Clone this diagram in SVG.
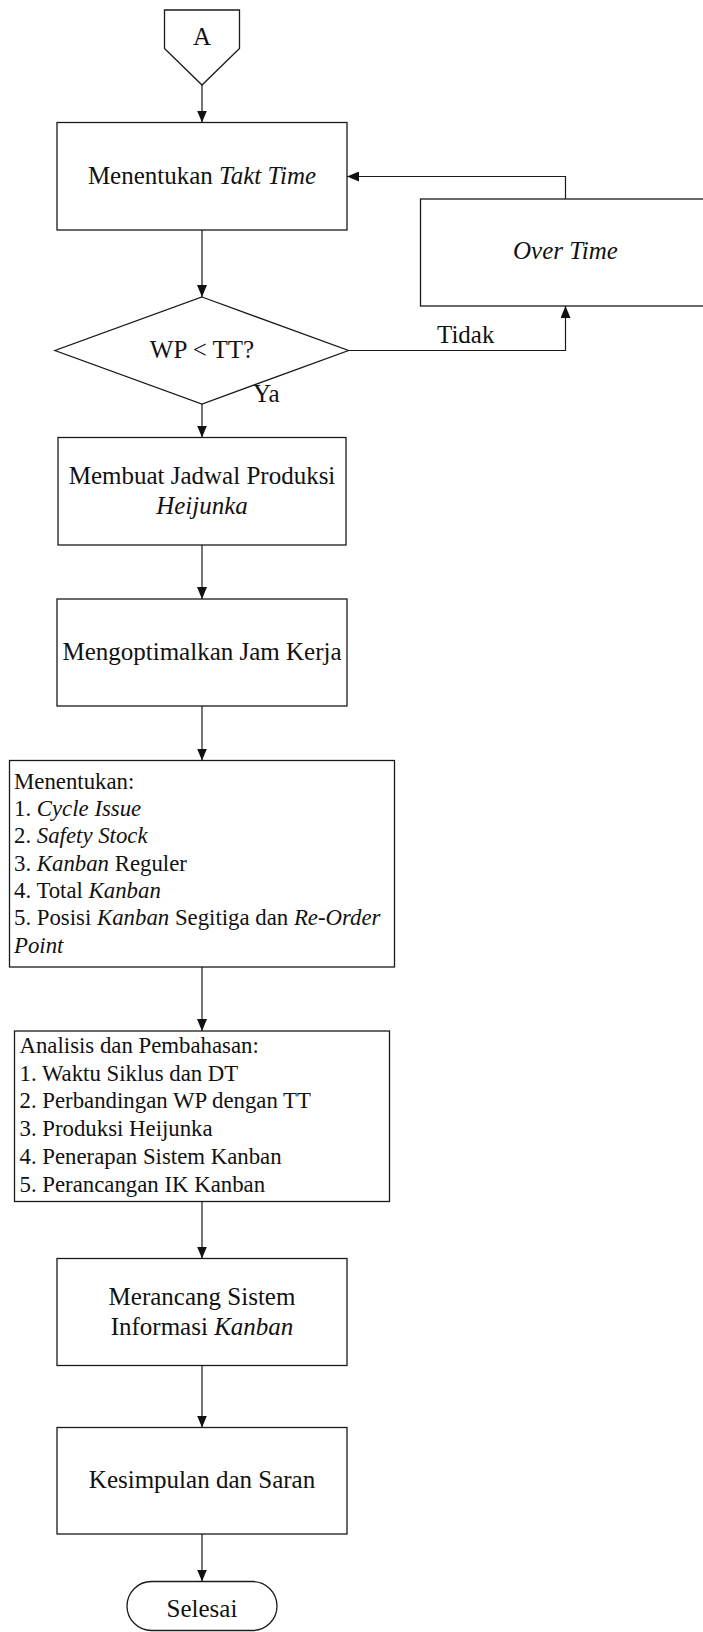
<svg xmlns="http://www.w3.org/2000/svg" width="703" height="1632" viewBox="0 0 703 1632" font-family="'Liberation Serif', 'Times New Roman', Times, serif">
  <style>
    .shape { fill: #ffffff; stroke: #1a1a1a; stroke-width: 1.3; }
    .link { fill: none; stroke: #1a1a1a; stroke-width: 1.2; }
    .t { font-family: 'Liberation Serif', 'Times New Roman', Times, serif; font-size: 25px; fill: #111111; }
    .l { font-size: 22.8px; }
    .c { text-anchor: middle; }
    .i { font-style: italic; }
  </style>
  <defs>
    <marker id="arrow" viewBox="0 0 12 10" markerWidth="12" markerHeight="10" refX="12" refY="5" orient="auto" markerUnits="userSpaceOnUse">
      <path d="M0,0 L12,5 L0,10 z" fill="#111111"/>
    </marker>
  </defs>
  <rect width="703" height="1632" fill="#ffffff"/>

  <!-- connectors -->
  <g id="connectors">
    <line class="link" x1="202" y1="85" x2="202" y2="122.5" marker-end="url(#arrow)"/>
    <line class="link" x1="202" y1="230" x2="202" y2="297" marker-end="url(#arrow)"/>
    <line class="link" x1="202" y1="404" x2="202" y2="437.5" marker-end="url(#arrow)"/>
    <line class="link" x1="202" y1="545" x2="202" y2="599" marker-end="url(#arrow)"/>
    <line class="link" x1="202" y1="706" x2="202" y2="760.5" marker-end="url(#arrow)"/>
    <line class="link" x1="202" y1="967" x2="202" y2="1031" marker-end="url(#arrow)"/>
    <line class="link" x1="202" y1="1201.5" x2="202" y2="1258.5" marker-end="url(#arrow)"/>
    <line class="link" x1="202" y1="1365.5" x2="202" y2="1427.5" marker-end="url(#arrow)"/>
    <line class="link" x1="202" y1="1534" x2="202" y2="1581.5" marker-end="url(#arrow)"/>
    <polyline class="link" points="348.5,350.5 565.5,350.5 565.5,306" marker-end="url(#arrow)"/>
    <polyline class="link" points="565.5,199 565.5,176.5 347,176.5" marker-end="url(#arrow)"/>
    <text class="t" x="437" y="343">Tidak</text>
    <text class="t" x="253" y="401.5">Ya</text>
  </g>

  <!-- off-page connector A -->
  <g id="node-a">
    <polygon class="shape" points="164.5,10 239.5,10 239.5,48.5 202,85 164.5,48.5"/>
    <text class="t c" x="202" y="45">A</text>
  </g>

  <g id="node-takt">
    <rect class="shape" x="57" y="122.5" width="290" height="107.5"/>
    <text class="t c" x="202" y="184">Menentukan <tspan class="i">Takt Time</tspan></text>
  </g>

  <g id="node-overtime">
    <rect class="shape" x="420.5" y="199" width="300" height="107"/>
    <text class="t c i" x="565.5" y="259">Over Time</text>
  </g>

  <g id="node-decision">
    <polygon class="shape" points="202,297 348.5,350.5 202,404 55,350.5"/>
    <text class="t c" x="202" y="358">WP &lt; TT?</text>
  </g>

  <g id="node-heijunka">
    <rect class="shape" x="58" y="437.5" width="288" height="107.5"/>
    <text class="t c" x="202" y="484">Membuat Jadwal Produksi</text>
    <text class="t c i" x="202" y="514">Heijunka</text>
  </g>

  <g id="node-jamkerja">
    <rect class="shape" x="57" y="599" width="290" height="107"/>
    <text class="t c" x="202" y="660">Mengoptimalkan Jam Kerja</text>
  </g>

  <g id="node-menentukan">
    <rect class="shape" x="9.5" y="760.5" width="385" height="206.5"/>
    <text class="t l" x="14" y="788.5">Menentukan:</text>
    <text class="t l" x="14" y="816">1. <tspan class="i">Cycle Issue</tspan></text>
    <text class="t l" x="14" y="843">2. <tspan class="i">Safety Stock</tspan></text>
    <text class="t l" x="14" y="871">3. <tspan class="i">Kanban</tspan> Reguler</text>
    <text class="t l" x="14" y="898">4. Total <tspan class="i">Kanban</tspan></text>
    <text class="t l" x="14" y="925">5. Posisi <tspan class="i">Kanban</tspan> Segitiga dan <tspan class="i">Re-Order</tspan></text>
    <text class="t l i" x="14" y="952.5">Point</text>
  </g>

  <g id="node-analisis">
    <rect class="shape" x="14.5" y="1031" width="375" height="170.5"/>
    <text class="t l" x="19.5" y="1053">Analisis dan Pembahasan:</text>
    <text class="t l" x="19.5" y="1080.5">1. Waktu Siklus dan DT</text>
    <text class="t l" x="19.5" y="1108">2. Perbandingan WP dengan TT</text>
    <text class="t l" x="19.5" y="1136">3. Produksi Heijunka</text>
    <text class="t l" x="19.5" y="1163.5">4. Penerapan Sistem Kanban</text>
    <text class="t l" x="19.5" y="1192">5. Perancangan IK Kanban</text>
  </g>

  <g id="node-sistem">
    <rect class="shape" x="57" y="1258.5" width="290" height="107"/>
    <text class="t c" x="202" y="1305">Merancang Sistem</text>
    <text class="t c" x="202" y="1335">Informasi <tspan class="i">Kanban</tspan></text>
  </g>

  <g id="node-kesimpulan">
    <rect class="shape" x="57" y="1427.5" width="290" height="106.5"/>
    <text class="t c" x="202" y="1487.5">Kesimpulan dan Saran</text>
  </g>

  <g id="node-selesai">
    <rect class="shape" x="127" y="1581.5" width="150" height="49" rx="24.5" ry="24.5"/>
    <text class="t c" x="202" y="1616.5">Selesai</text>
  </g>
</svg>
